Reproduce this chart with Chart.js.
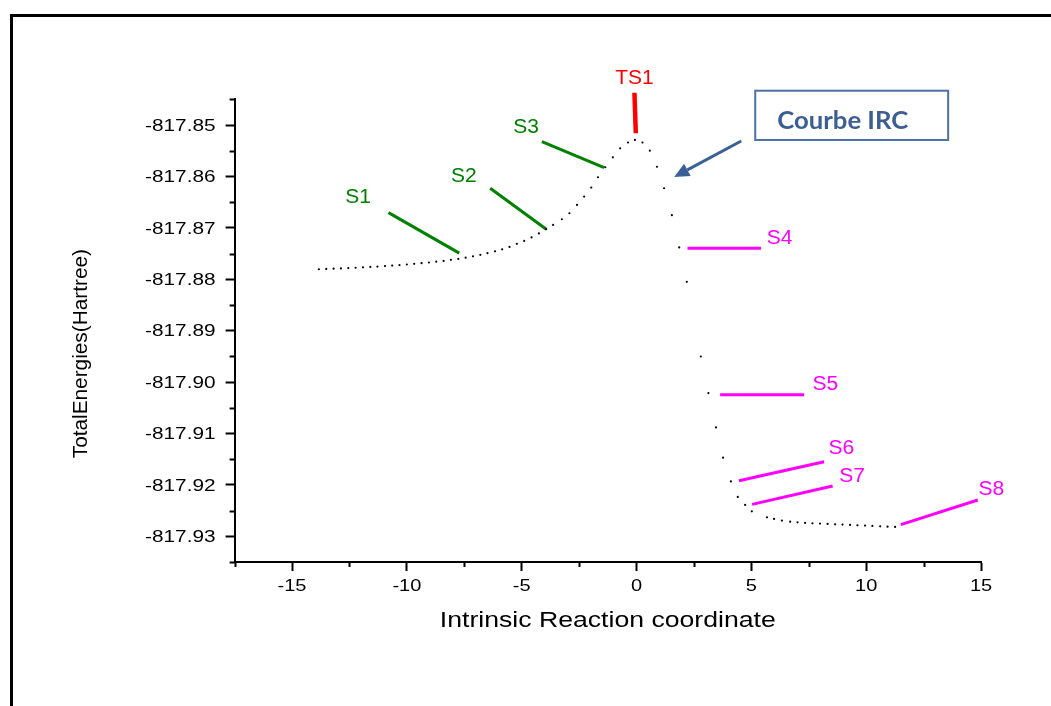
<!DOCTYPE html>
<html>
<head>
<meta charset="utf-8">
<script src="https://cdn.jsdelivr.net/npm/chart.js@4.4.1/dist/chart.umd.min.js"></script>
<style>
  html, body { margin: 0; padding: 0; background: #ffffff; }
  canvas { display: block; }
</style>
</head>
<body>
<canvas id="irc" width="1051" height="706"></canvas>
<script>
// IRC path: intrinsic reaction coordinate and total energy (Hartree)
const ircCoord = [
  -13.83, -13.51, -13.19, -12.87, -12.55, -12.23, -11.91, -11.59, -11.28, -10.95,
  -10.64, -10.32, -10.00, -9.68, -9.36, -9.04, -8.72, -8.40, -8.08, -7.76,
  -7.44, -7.12, -6.80, -6.49, -6.16, -5.85, -5.53, -5.21, -4.89, -4.57,
  -4.25, -3.93, -3.63, -3.25, -2.92, -2.59, -2.28, -1.97, -1.68, -1.36,
  -1.03, -0.71, -0.37, -0.07,
  0.26, 0.58, 0.89, 1.20, 1.54, 1.86, 2.19, 2.80, 3.13, 3.46,
  3.77, 4.11, 4.41, 4.73, 5.02, 5.68, 5.99, 6.33, 6.69, 7.01,
  7.34, 7.66, 7.99, 8.32, 8.65, 8.97, 9.30, 9.62, 9.95, 10.27,
  10.61, 10.93, 11.26
];
const ircEnergy = [
  -817.87806, -817.87800, -817.87794, -817.87789, -817.87783, -817.87777, -817.87769, -817.87761, -817.87754, -817.87744,
  -817.87734, -817.87724, -817.87713, -817.87701, -817.87688, -817.87674, -817.87658, -817.87643, -817.87623, -817.87604,
  -817.87581, -817.87555, -817.87526, -817.87493, -817.87458, -817.87419, -817.87371, -817.87312, -817.87254, -817.87186,
  -817.87108, -817.87027, -817.86943, -817.86833, -817.86716, -817.86555, -817.86393, -817.86218, -817.86016, -817.85822,
  -817.85628, -817.85453, -817.85340, -817.85291,
  -817.85340, -817.85499, -817.85812, -817.86230, -817.86753, -817.87381, -817.88051, -817.89503, -817.90214, -817.90882,
  -817.91471, -817.91932, -817.92235, -817.92390, -817.92515, -817.92631, -817.92662, -817.92695, -817.92715, -817.92728,
  -817.92740, -817.92748, -817.92753, -817.92759, -817.92767, -817.92773, -817.92779, -817.92787, -817.92792, -817.92798,
  -817.92806, -817.92812, -817.92818
];

// Structure markers: short segments from (x0, e0) to (x1, e1)
const markerNames = ['S1', 'S2', 'S3', 'TS1', 'S4', 'S5', 'S6', 'S7', 'S8'];
const markerX0 = [-10.80, -6.37, -4.12, -0.09, 2.22, 3.64, 4.46, 5.03, 11.51];
const markerE0 = [-817.86704, -817.86230, -817.85325, -817.84372, -817.87396, -817.90247, -817.91918, -817.92379, -817.92773];
const markerX1 = [-7.72, -3.93, -1.41, -0.03, 5.42, 7.30, 8.17, 8.54, 14.86];
const markerE1 = [-817.87493, -817.87027, -817.85830, -817.85161, -817.87396, -817.90247, -817.91549, -817.92021, -817.92293];

// Axis ticks
const xTicks = [-15, -10, -5, 0, 5, 10, 15];
const xTickLabels = ['-15', '-10', '-5', '0', '5', '10', '15'];
const xMinorTicks = [-17.5, -12.5, -7.5, -2.5, 2.5, 7.5, 12.5];
const yTicks = [-817.85, -817.86, -817.87, -817.88, -817.89, -817.90, -817.91, -817.92, -817.93];
const yTickLabels = ['-817.85', '-817.86', '-817.87', '-817.88', '-817.89', '-817.90', '-817.91', '-817.92', '-817.93'];
const yMinorTicks = [-817.845, -817.855, -817.865, -817.875, -817.885, -817.895, -817.905, -817.915, -817.925, -817.935];

const xTitle = 'Intrinsic Reaction coordinate';
const yTitle = 'TotalEnergies(Hartree)';
const calloutText = 'Courbe IRC';

// ---- styles & layout ----
const GREEN = '#008000', RED = '#FF0000', MAGENTA = '#FF00FF';
const markerStyle = {
  color: [GREEN, GREEN, GREEN, RED, MAGENTA, MAGENTA, MAGENTA, MAGENTA, MAGENTA],
  width: [3, 3, 3, 4.5, 3, 3, 3, 3, 3],
  anchor: ['start', 'start', 'start', 'start', 'end', 'end', 'end', 'end', 'end'],
  dx: [-30.5, -26.3, -15.7, 0, 18.5, 21.3, 17.3, 19.5, 13.5],
  dy: [-17.2, -13.6, -15.9, -16.4, -11.1, -12, -14.5, -11.1, -12.1],
  font: '20px "Liberation Sans", Arial, sans-serif',
  sx: 1.05,
  capHalf: 7.2
};
const textStyle = {
  xTick: { font: '16px "Liberation Sans", Arial, sans-serif', sx: 1.25, align: 'center' },
  yTick: { font: '16px "Liberation Sans", Arial, sans-serif', sx: 1.3, align: 'right' },
  xTitle: { font: '22px "Liberation Sans", Arial, sans-serif', sx: 1.21, align: 'center' },
  yTitle: { font: '20px "Liberation Sans", Arial, sans-serif', sx: 1.04, align: 'center', rotate: -Math.PI / 2 }
};
const callout = {
  box: { x0: 5.17, e0: -817.84333, x1: 13.57, e1: -817.85291 },
  arrowFrom: { x: 4.56, e: -817.85311 },
  arrowTo: { x: 1.64, e: -817.86011 },
  boxColor: '#4A72A5', textColor: '#3B5F94', arrowColor: '#3A6196',
  font: 'bold 24px Lato, "Open Sans", sans-serif', textWidth: 131, textDx: 22, textDy: 38.3
};

function drawText(ctx, text, x, y, o) {
  ctx.save();
  ctx.font = o.font;
  ctx.fillStyle = o.color || '#000';
  ctx.textAlign = o.align || 'center';
  ctx.textBaseline = 'alphabetic';
  ctx.translate(x, y);
  if (o.rotate) ctx.rotate(o.rotate);
  let sx = o.sx || 1;
  if (o.width) sx = o.width / ctx.measureText(text).width;
  ctx.scale(sx, 1);
  ctx.fillText(text, 0, 0);
  ctx.restore();
}

// Page frame behind the plot
const framePlugin = {
  id: 'frame',
  beforeDraw(chart) {
    const { ctx, width, height } = chart;
    ctx.save();
    ctx.fillStyle = '#ffffff';
    ctx.fillRect(0, 0, width, height);
    ctx.fillStyle = '#000000';
    ctx.fillRect(10, 14, width - 10, 3);
    ctx.fillRect(10, 14, 3, height - 14);
    ctx.restore();
  }
};

// Minor ticks, tick labels and axis titles
const axisPlugin = {
  id: 'axisDecor',
  afterDraw(chart) {
    const { ctx } = chart;
    const x = chart.scales.x, y = chart.scales.y;
    ctx.save();
    ctx.strokeStyle = '#000';
    ctx.lineWidth = 2;
    ctx.beginPath();
    xMinorTicks.forEach(v => {
      const px = Math.round(x.getPixelForValue(v)) + 0.5;
      ctx.moveTo(px, x.top); ctx.lineTo(px, x.top + 5);
    });
    yMinorTicks.forEach(v => {
      const py = Math.round(y.getPixelForValue(v)) + 0.5;
      ctx.moveTo(y.right - 5, py); ctx.lineTo(y.right, py);
    });
    ctx.stroke();
    ctx.restore();

    x.ticks.forEach((t, i) => {
      drawText(ctx, xTickLabels[i], x.getPixelForValue(t.value), x.top + 28.5, textStyle.xTick);
    });
    y.ticks.forEach((t, i) => {
      drawText(ctx, yTickLabels[i], y.right - 19, y.getPixelForValue(t.value) + 5.7, textStyle.yTick);
    });
    const area = chart.chartArea;
    drawText(ctx, xTitle, (area.left + area.right) / 2, x.top + 64.7, textStyle.xTitle);
    drawText(ctx, yTitle, y.right - 147.3, (area.top + area.bottom) / 2 + 23, textStyle.yTitle);
  }
};

// Marker names and the IRC callout
const annotationPlugin = {
  id: 'annotations',
  afterDatasetsDraw(chart) {
    const { ctx } = chart;
    const x = chart.scales.x, y = chart.scales.y;
    markerNames.forEach((name, i) => {
      const start = markerStyle.anchor[i] === 'start';
      const px = x.getPixelForValue(start ? markerX0[i] : markerX1[i]);
      const py = y.getPixelForValue(start ? markerE0[i] : markerE1[i]);
      drawText(ctx, name, px + markerStyle.dx[i], py + markerStyle.dy[i] + markerStyle.capHalf,
        { font: markerStyle.font, color: markerStyle.color[i], align: 'center', sx: markerStyle.sx });
    });

    const bx0 = x.getPixelForValue(callout.box.x0), by0 = y.getPixelForValue(callout.box.e0);
    const bx1 = x.getPixelForValue(callout.box.x1), by1 = y.getPixelForValue(callout.box.e1);
    ctx.save();
    ctx.strokeStyle = callout.boxColor;
    ctx.lineWidth = 2;
    ctx.strokeRect(bx0, by0, bx1 - bx0, by1 - by0);
    ctx.restore();
    drawText(ctx, calloutText, bx0 + callout.textDx, by0 + callout.textDy,
      { font: callout.font, color: callout.textColor, align: 'left', width: callout.textWidth });

    const ax0 = x.getPixelForValue(callout.arrowFrom.x), ay0 = y.getPixelForValue(callout.arrowFrom.e);
    const ax1 = x.getPixelForValue(callout.arrowTo.x), ay1 = y.getPixelForValue(callout.arrowTo.e);
    const ang = Math.atan2(ay1 - ay0, ax1 - ax0);
    const headLen = 15, headHalf = 7;
    const hx = ax1 - headLen * Math.cos(ang), hy = ay1 - headLen * Math.sin(ang);
    ctx.save();
    ctx.strokeStyle = callout.arrowColor;
    ctx.fillStyle = callout.arrowColor;
    ctx.lineWidth = 3;
    ctx.beginPath();
    ctx.moveTo(ax0, ay0); ctx.lineTo(hx, hy);
    ctx.stroke();
    ctx.beginPath();
    ctx.moveTo(ax1, ay1);
    ctx.lineTo(hx + headHalf * Math.sin(ang), hy - headHalf * Math.cos(ang));
    ctx.lineTo(hx - headHalf * Math.sin(ang), hy + headHalf * Math.cos(ang));
    ctx.closePath();
    ctx.fill();
    ctx.restore();
  }
};

const datasets = [{
  label: 'IRC',
  data: ircCoord.map((v, i) => ({ x: v, y: ircEnergy[i] })),
  showLine: false,
  pointRadius: 1.1,
  pointHoverRadius: 1.1,
  pointBackgroundColor: '#000',
  pointBorderWidth: 0
}];
markerNames.forEach((name, i) => {
  datasets.push({
    label: name,
    data: [{ x: markerX0[i], y: markerE0[i] }, { x: markerX1[i], y: markerE1[i] }],
    showLine: true,
    borderColor: markerStyle.color[i],
    borderWidth: markerStyle.width[i],
    pointRadius: 0,
    pointHoverRadius: 0,
    clip: false
  });
});

const scaleBase = {
  type: 'linear',
  ticks: { display: false },
  grid: { display: true, drawOnChartArea: false, drawTicks: true, tickLength: 9, tickWidth: 2, tickColor: '#000' },
  border: { display: true, color: '#000', width: 2 }
};

new Chart(document.getElementById('irc'), {
  type: 'scatter',
  data: { datasets },
  options: {
    responsive: false,
    animation: false,
    devicePixelRatio: 1,
    layout: { padding: { left: 0, right: 70, top: 99.3, bottom: 0 } },
    plugins: { legend: { display: false }, tooltip: { enabled: false } },
    scales: {
      x: Object.assign({}, scaleBase, {
        min: -17.5, max: 15,
        afterBuildTicks: s => { s.ticks = xTicks.map(v => ({ value: v })); },
        afterFit: s => { s.height = 144; }
      }),
      y: Object.assign({}, scaleBase, {
        min: -817.935, max: -817.845,
        afterBuildTicks: s => { s.ticks = yTicks.map(v => ({ value: v })); },
        afterFit: s => { s.width = 234.6; }
      })
    }
  },
  plugins: [framePlugin, axisPlugin, annotationPlugin]
});
</script>
</body>
</html>
